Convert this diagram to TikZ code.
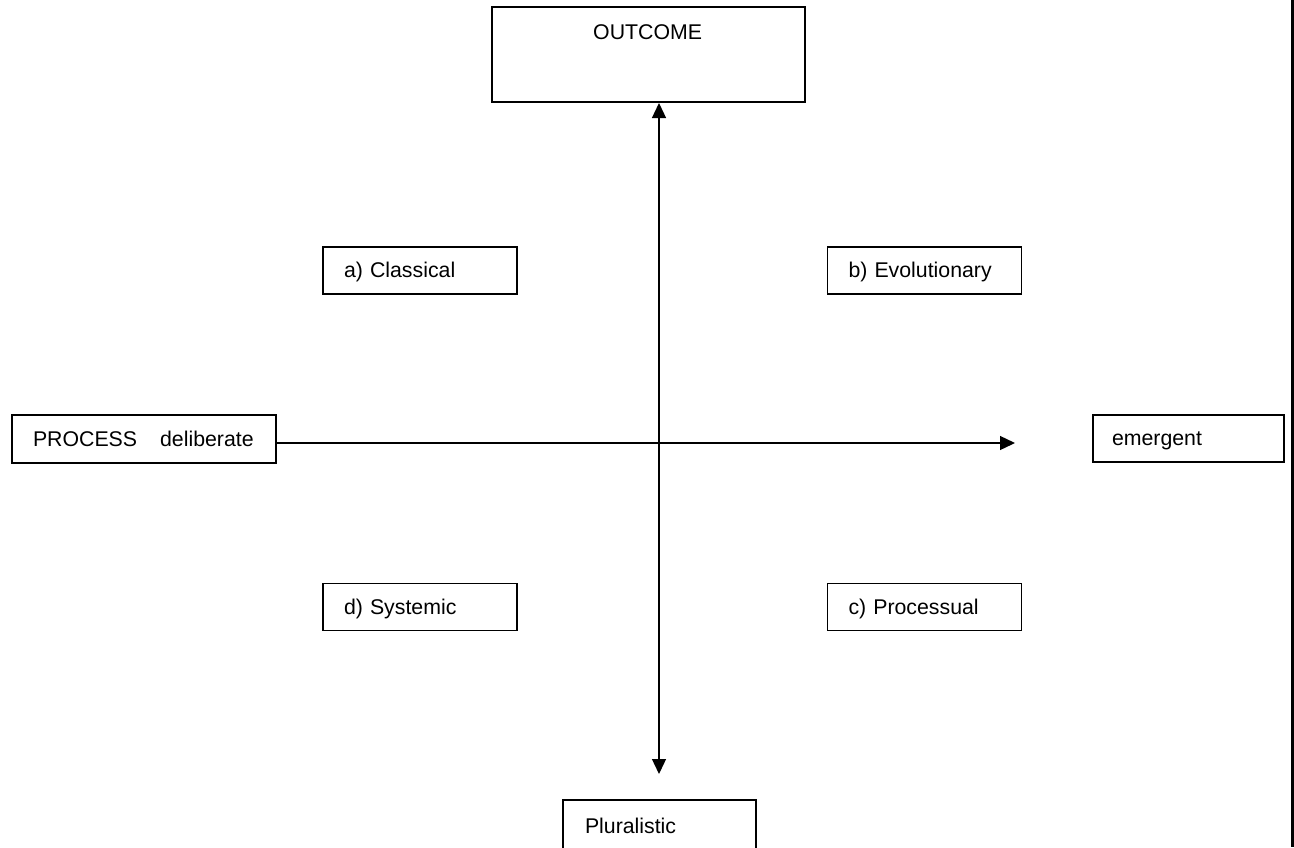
\documentclass[tikz,border=0pt]{standalone}
\usepackage{fontspec}
\setmainfont{Liberation Sans}
\usetikzlibrary{arrows.meta}
\begin{document}
\begin{tikzpicture}[x=1pt,y=-1pt,
  font=\fontsize{21.3}{26}\selectfont,
  box/.style={draw=black,line width=1.8pt,rectangle,inner ysep=0pt,minimum height=47pt,align=left,text height=15.5pt,text depth=1.5pt},
  quad/.style={box,text width=152pt,inner xsep=21pt,minimum width=194pt},
  txt/.style={anchor=west,inner sep=0pt},
  arr/.style={line width=1.3pt,-{Triangle[length=15pt,width=14pt]}},
  darr/.style={line width=1.3pt,{Triangle[length=15pt,width=14pt]}-{Triangle[length=15pt,width=14pt]}}]
\clip (0,0) rectangle (1294,847);
\useasboundingbox (0,0) rectangle (1294,847);
\fill[white] (0,0) rectangle (1294,847);
% right edge bar
\fill[black] (1291,0) rectangle (1294,847);
% OUTCOME
\node[draw=black,line width=1.8pt,rectangle,minimum width=313pt,minimum height=95pt] (o) at (648.5,54.5) {};
\node[txt] (ot) at (593,32) {OUTCOME};
% quadrants
\node[quad] (a) at (420,270.5) {a) Classical};
\node[quad] (b) at (924.5,270.5) {b) Evolutionary};
\node[quad] (d) at (420,607) {d) Systemic};
\node[quad] (c) at (924.5,607) {c) Processual};
% process and emergent
\node[box,minimum width=264pt,minimum height=48pt,text width=222pt,inner xsep=21pt] (p) at (144,439) {PROCESS\hspace{23pt}deliberate};
\node[box,minimum width=191pt,text width=153pt,inner xsep=19pt] (e) at (1188.5,438.5) {emergent};
% pluralistic (cut off at bottom)
\node[box,minimum width=193pt,minimum height=52pt,text width=149pt,inner xsep=22pt] (pl) at (659.5,826) {Pluralistic};
% connectors
\coordinate (hs) at (276,443);
\coordinate (ht) at (1015,443);
\coordinate (vt) at (659,103);
\coordinate (vb) at (659,774);
\draw[arr] (hs) -- (ht);
\draw[darr] (vt) -- (vb);
\end{tikzpicture}
\end{document}
